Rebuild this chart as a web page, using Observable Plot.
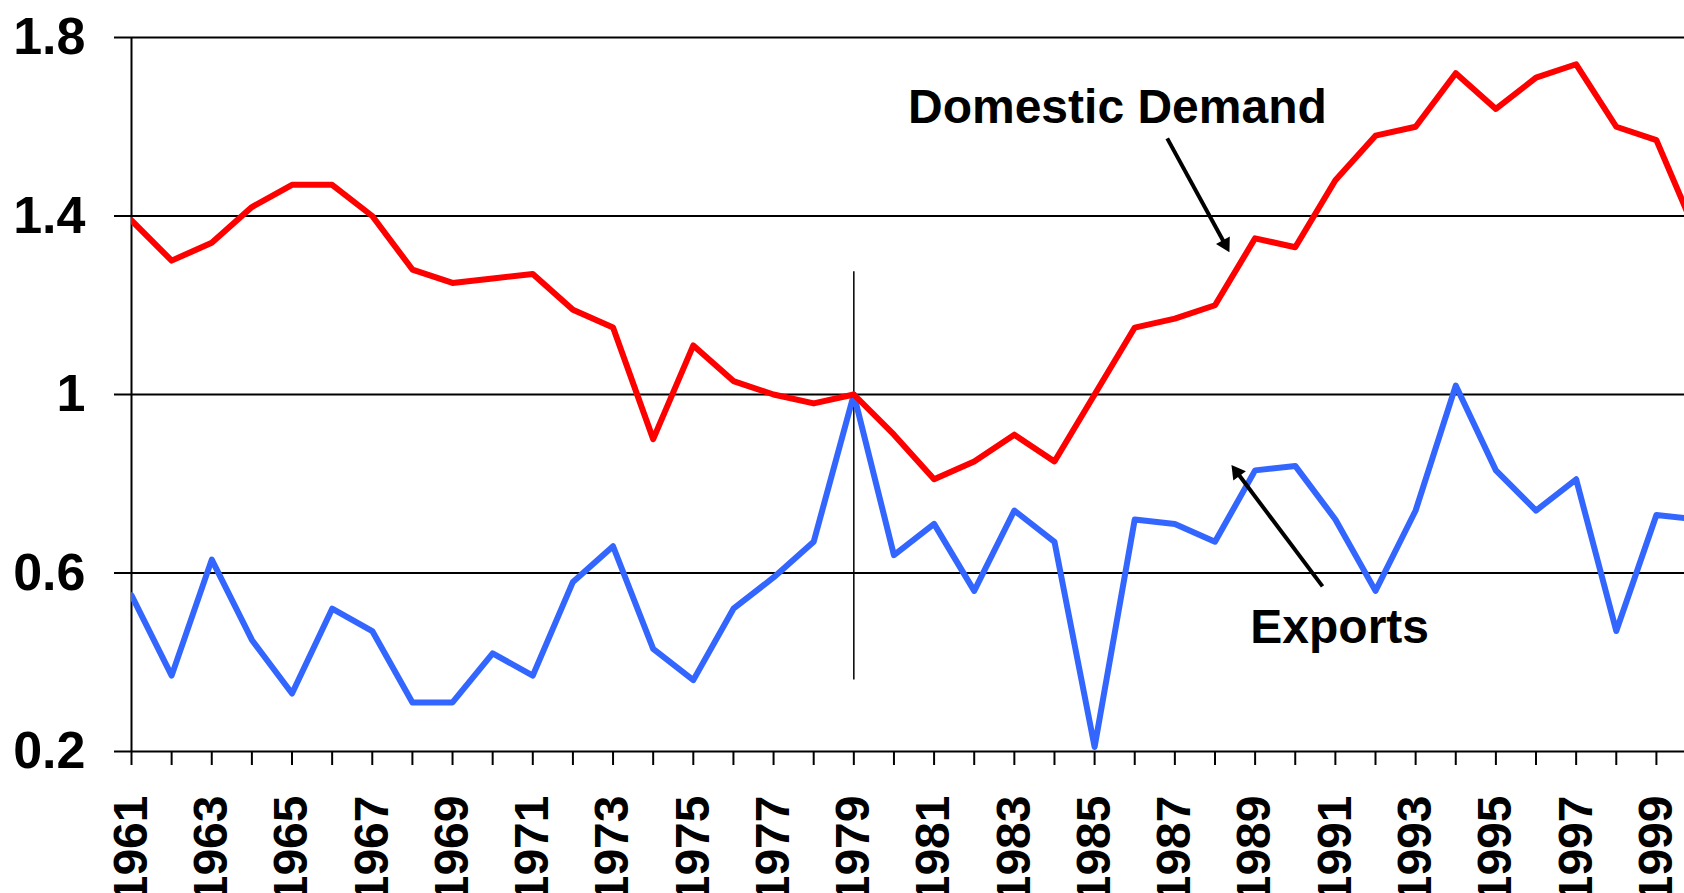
<!DOCTYPE html>
<html>
<head>
<meta charset="utf-8">
<script src="https://cdn.jsdelivr.net/npm/d3@7"></script>
<script src="https://cdn.jsdelivr.net/npm/@observablehq/plot@0.6"></script>
<style>
  html, body { margin: 0; padding: 0; background: #fff; overflow: hidden; }
  #chart svg { display: block; }
</style>
</head>
<body>
<div id="chart"></div>
<script>
// ---- data ----
const years = [1961,1962,1963,1964,1965,1966,1967,1968,1969,1970,
               1971,1972,1973,1974,1975,1976,1977,1978,1979,1980,
               1981,1982,1983,1984,1985,1986,1987,1988,1989,1990,
               1991,1992,1993,1994,1995,1996,1997,1998,1999,2000];
const domesticDemand = [1.39,1.30,1.34,1.42,1.47,1.47,1.40,1.28,1.25,1.26,
                        1.27,1.19,1.15,0.90,1.11,1.03,1.00,0.98,1.00,0.91,
                        0.81,0.85,0.91,0.85,1.00,1.15,1.17,1.20,1.35,1.33,
                        1.48,1.58,1.60,1.72,1.64,1.71,1.74,1.60,1.57,1.36];
const exportsSeries = [0.55,0.37,0.63,0.45,0.33,0.52,0.47,0.31,0.31,0.42,
                       0.37,0.58,0.66,0.43,0.36,0.52,0.59,0.67,1.00,0.64,
                       0.71,0.56,0.74,0.67,0.21,0.72,0.71,0.67,0.83,0.84,
                       0.72,0.56,0.74,1.02,0.83,0.74,0.81,0.47,0.73,0.72];
const yTicks = [0.2, 0.6, 1, 1.4, 1.8];
const xLabelYears = [1961,1963,1965,1967,1969,1971,1973,1975,1977,1979,
                     1981,1983,1985,1987,1989,1991,1993,1995,1997,1999];
const baseYear = [1979];
const baseYearSpan = [0.36, 1.275];
// annotations
const labelText = ["Domestic Demand", "Exports"];
const labelX = [1980.35, 1988.88];
const labelY = [1.608, 0.443];
const arrowX1 = [1986.81, 1990.68];
const arrowY1 = [1.574, 0.570];
const arrowX2 = [1988.36, 1988.41];
const arrowY2 = [1.319, 0.842];

// ---- layout ----
const W = 1684, H = 893;
const mL = 131, mT = 37, mB = 142, mR = 0;
const xDomain = [1961, 1999.70];
const yDomain = [0.2, 1.8];
const RED = "#ff0000", BLUE = "#3366ff";
const FONT = "'Liberation Sans', Arial, Helvetica, sans-serif";

const rows = years.map((yr, i) => ({year: yr, dd: domesticDemand[i], ex: exportsSeries[i]}));
const tickYears = years.filter(y => y <= xDomain[1]);
const labels = labelText.map((t, i) => ({t, x: labelX[i], y: labelY[i]}));

// arrows: shaft + filled triangular head, positioned via the same scales
const sx = Plot.scale({x: {domain: xDomain, range: [mL, W - mR]}});
const sy = Plot.scale({y: {domain: yDomain, range: [H - mB, mT]}});
const headR = 7.5;
const headS = Math.sqrt(Math.PI) * headR * 0.6824; // tip distance for triangle2
const arrows = arrowX1.map((_, i) => {
  const px1 = sx.apply(arrowX1[i]), py1 = sy.apply(arrowY1[i]);
  const px2 = sx.apply(arrowX2[i]), py2 = sy.apply(arrowY2[i]);
  const dx = px2 - px1, dy = py2 - py1, L = Math.hypot(dx, dy);
  const ux = dx / L, uy = dy / L;
  const cx = px2 - ux * headS, cy = py2 - uy * headS;
  return {
    x1: arrowX1[i], y1: arrowY1[i],
    xc: sx.invert(cx), yc: sy.invert(cy),
    angle: Math.atan2(dx, -dy) * 180 / Math.PI
  };
});

const chart = Plot.plot({
  width: W, height: H,
  marginLeft: mL, marginTop: mT, marginBottom: mB, marginRight: mR,
  style: {fontFamily: FONT, fontSize: "48px", fontWeight: "bold", color: "#000", background: "#fff", overflow: "hidden"},
  x: {domain: xDomain, axis: null},
  y: {domain: yDomain, axis: null},
  marks: [
    // gridlines and axis lines
    Plot.ruleY(yTicks, {stroke: "#000", strokeWidth: 2}),
    Plot.ruleX([xDomain[0]], {y1: yDomain[0], y2: yDomain[1], stroke: "#000", strokeWidth: 2}),
    Plot.axisY({ticks: yTicks, tickSize: 17, tickPadding: 29, strokeWidth: 2,
                tickFormat: d => String(d), fontSize: 52}),
    Plot.axisX({ticks: tickYears, tickSize: 14, strokeWidth: 2, tickFormat: () => ""}),
    Plot.axisX({ticks: xLabelYears, tickSize: 0, tickPadding: 44, tickRotate: -90,
                tickFormat: d => String(d), fontSize: 48}),
    // 1979 reference line
    Plot.ruleX(baseYear, {y1: baseYearSpan[0], y2: baseYearSpan[1], stroke: "#000", strokeWidth: 1.5}),
    // series
    Plot.line(rows, {x: "year", y: "ex", stroke: BLUE, strokeWidth: 6, clip: true}),
    Plot.line(rows, {x: "year", y: "dd", stroke: RED, strokeWidth: 6, clip: true}),
    // annotations
    Plot.text(labels, {x: "x", y: "y", text: "t", textAnchor: "start", lineAnchor: "bottom",
                       fontSize: 48, fontWeight: "bold", fill: "#000"}),
    Plot.link(arrows, {x1: "x1", y1: "y1", x2: "xc", y2: "yc", stroke: "#000", strokeWidth: 4}),
    Plot.dot(arrows, {x: "xc", y: "yc", symbol: "triangle2", r: headR, fill: "#000", stroke: "none",
                      rotate: "angle"})
  ]
});
document.getElementById("chart").append(chart);
</script>
</body>
</html>
